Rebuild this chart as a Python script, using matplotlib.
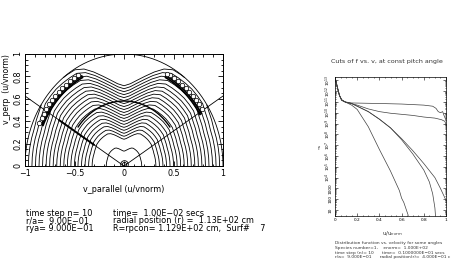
import matplotlib
matplotlib.use("Agg")
import matplotlib.pyplot as plt
import numpy as np
from matplotlib.ticker import MultipleLocator, FixedLocator, LogLocator, NullFormatter

# ---------------- left panel: contours of f(v_par, v_perp) ----------------
# radius of the outermost contour at each pitch angle (deg), mirrored to 180
pitch_deg = [0, 5, 10, 15, 20, 25, 30, 35, 40, 45, 50, 55, 60, 65, 70, 75, 80, 85, 90]
outer_r = [0.93, 0.93, 0.93, 0.93, 0.93, 0.94, 0.95, 0.97, 0.97, 0.97,
           0.965, 0.96, 0.955, 0.92, 0.86, 0.80, 0.75, 0.71, 0.69]
outer_level = 26
contour_levels = [5] + list(range(9, 28))

trap_deg = [32, 148]            # trapped/passing boundary lines
inner_arc_r = 0.58
inner_arc_deg = [37, 143]
band_r = [0.895, 0.91]
band_deg_right = [31, 62]
band_deg_left = [118, 156]
marker_r = 0.935
marker_deg_right = [33, 36, 39, 42, 45, 48, 51, 54, 57, 60, 62]
marker_deg_left = [120, 123, 126, 129, 132, 135, 138, 141, 144, 147, 150, 153, 156]
origin_mark_ms = [3.0, 5.5]

left_info = [("time step n= 10", "time=  1.00E\u221202 secs"),
             ("r/a=  9.00E\u221201", "radial position (r) =  1.13E+02 cm"),
             ("rya= 9.000E\u221201", "R=rpcon= 1.129E+02 cm,  Surf#    7")]

# ---------------- right panel: cuts of f vs v ----------------
u_a = [0, 0.02, 0.04, 0.06, 0.09, 0.15, 0.4, 0.6, 0.8, 0.88, 0.91, 0.93, 0.95, 0.97, 0.98, 1.0]
lf_a = [13.3, 12.4, 11.6, 11.2, 11.0, 10.9, 10.85, 10.8, 10.7, 10.6, 10.4, 10.1, 10.0, 10.1, 9.8, 9.3]
u_b = [0, 0.02, 0.04, 0.06, 0.09, 0.2, 0.3, 0.4, 0.5, 0.6, 0.7, 0.8, 0.9, 0.96, 0.99, 1.0]
lf_b = [13.3, 12.4, 11.6, 11.2, 11.0, 10.7, 10.35, 10.1, 9.95, 9.85, 9.75, 9.6, 9.5, 9.35, 9.2, 8.9]
u_c1 = [0, 0.02, 0.04, 0.06, 0.1, 0.15, 0.2, 0.3, 0.4, 0.5, 0.6, 0.7, 0.8, 0.85, 0.88, 0.9, 0.905]
lf_c1 = [13.3, 12.4, 11.6, 11.15, 10.95, 10.85, 10.6, 10.1, 9.4, 8.6, 7.5, 6.2, 4.7, 3.6, 2.5, 1.2, 0.5]
u_c2 = [0, 0.02, 0.04, 0.06, 0.1, 0.15, 0.2, 0.3, 0.4, 0.5, 0.6, 0.7, 0.8, 0.9, 0.95, 1.0]
lf_c2 = [13.3, 12.4, 11.6, 11.15, 10.95, 10.85, 10.6, 10.1, 9.4, 8.6, 7.6, 6.5, 5.3, 4.0, 3.0, 1.9]
u_d = [0, 0.02, 0.04, 0.06, 0.1, 0.15, 0.2, 0.3, 0.4, 0.5, 0.58, 0.6, 0.62, 0.66]
lf_d = [13.3, 12.4, 11.6, 11.15, 10.95, 10.7, 10.3, 8.7, 6.6, 4.6, 2.8, 2.1, 1.7, 0.5]
decades = list(range(1, 14))
decade_labels = ["10", "100", "1000"] + ["10$^{%d}$" % k for k in range(4, 14)]

right_info = ["Distribution function vs. velocity for some angles",
              "Species number=1,    enorm=  1.000E+02",
              "time step (n)= 10      time=  0.1000000E\u221201 secs",
              "r/a=  9.000E\u221201      radial position(r)=  4.000E\u221201 c"]

W, H = 459, 266
fig = plt.figure(figsize=(W / 100, H / 100), dpi=100)


def fx(x):
    return x / W


def fy(y):
    return 1 - y / H


# ---- left axes ----
ax = fig.add_axes([fx(25), fy(166), fx(223) - fx(25), fy(54) - fy(166)])

th_half = np.array(pitch_deg, dtype=float)
th_full = np.concatenate([th_half, 180 - th_half[-2::-1]])
R_full = np.concatenate([outer_r, outer_r[-2::-1]])
r = np.linspace(0, 1, 41)
TH = np.radians(th_full)[None, :]
X = r[:, None] * np.cos(TH)
Y = r[:, None] * np.sin(TH)
L = outer_level * r[:, None] / R_full[None, :]
ax.contour(X, Y, L, levels=contour_levels, colors="k", linewidths=0.6)

t = np.radians(np.linspace(0, 180, 200))
ax.plot(np.cos(t), np.sin(t), color="k", lw=0.6)

for d in trap_deg:
    a = np.radians(d)
    ax.plot([0, 1.3 * np.cos(a)], [0, 1.3 * np.sin(a)], color="k", lw=0.6)
a = np.radians(trap_deg[1])
ax.plot([0.36 * np.cos(a), 0.77 * np.cos(a)], [0.36 * np.sin(a), 0.77 * np.sin(a)],
        color="k", lw=1.4)

t = np.radians(np.linspace(inner_arc_deg[0], inner_arc_deg[1], 80))
ax.plot(inner_arc_r * np.cos(t), inner_arc_r * np.sin(t), color="k", lw=1.0)

for lo, hi in (band_deg_right, band_deg_left):
    t = np.radians(np.linspace(lo, hi, 40))
    for rb in band_r:
        ax.plot(rb * np.cos(t), rb * np.sin(t), color="k", lw=1.3)

for degs in (marker_deg_right, marker_deg_left):
    t = np.radians(np.array(degs, dtype=float))
    ax.plot(marker_r * np.cos(t), marker_r * np.sin(t), "o", ms=3.2,
            mfc="white", mec="k", mew=0.5)

for ms in origin_mark_ms:
    ax.plot([0], [0.02], "o", ms=ms, mfc="none", mec="k", mew=0.6)

ax.set_xlim(-1, 1)
ax.set_ylim(0, 1)
ax.xaxis.set_major_locator(FixedLocator([-1, -0.5, 0, 0.5, 1]))
ax.set_xticklabels(["\u22121", "\u22120.5", "0", "0.5", "1"])
ax.xaxis.set_minor_locator(MultipleLocator(0.1))
ax.set_yticks([0, 0.2, 0.4, 0.6, 0.8, 1])
ax.set_yticklabels(["0", "0.2", "0.4", "0.6", "0.8", "1"], rotation=90, va="center")
ax.yaxis.set_minor_locator(MultipleLocator(0.05))
ax.tick_params(which="both", direction="in", top=True, right=True, width=0.6,
               labelsize=5.8, pad=2)
ax.tick_params(which="major", length=3.5)
ax.tick_params(which="minor", length=1.8)
for s in ax.spines.values():
    s.set_linewidth(0.7)

fig.text(fx(124), fy(190), "v_parallel (u/vnorm)", ha="center", va="center", fontsize=5.8)
fig.text(fx(7), fy(89), "v_perp  (u/vnorm)", ha="center", va="center",
         fontsize=5.6, rotation=90)
for i, (a_txt, b_txt) in enumerate(left_info):
    y = 213 + 7.7 * i
    fig.text(fx(26), fy(y), a_txt, ha="left", va="center", fontsize=5.9)
    fig.text(fx(113), fy(y), b_txt, ha="left", va="center", fontsize=5.9)

# ---- right axes ----
ax2 = fig.add_axes([fx(335), fy(216), fx(446) - fx(335), fy(77) - fy(216)])
for u, lf in ((u_a, lf_a), (u_b, lf_b), (u_c1, lf_c1), (u_c2, lf_c2), (u_d, lf_d)):
    ax2.plot(u, 10.0 ** np.array(lf), color="0.25", lw=0.5)
ax2.set_yscale("log")
ax2.set_xlim(0, 1)
ax2.set_ylim(10 ** 0.45, 10 ** 13.3)
ax2.set_xticks([0, 0.2, 0.4, 0.6, 0.8, 1])
ax2.set_xticklabels(["0", "0.2", "0.4", "0.6", "0.8", "1"])
ax2.xaxis.set_minor_locator(MultipleLocator(0.05))
ax2.yaxis.set_major_locator(FixedLocator([10.0 ** k for k in decades]))
ax2.set_yticklabels(decade_labels, rotation=90, va="center")
ax2.yaxis.set_minor_locator(LogLocator(base=10, subs=np.arange(2, 10), numticks=200))
ax2.yaxis.set_minor_formatter(NullFormatter())
ax2.tick_params(which="both", direction="in", top=True, right=True, width=0.4,
                labelsize=3.1, pad=1.5)
ax2.tick_params(which="major", length=2.2)
ax2.tick_params(which="minor", length=1.0)
for s in ax2.spines.values():
    s.set_linewidth(0.5)

fig.text(fx(387), fy(61), "Cuts of f vs. v, at const pitch angle", ha="center",
         va="center", fontsize=4.6, color="0.2")
fig.text(fx(319), fy(148), "f", ha="center", va="center", fontsize=3.8, color="0.2")
fig.text(fx(392), fy(234), "u/u$_{norm}$", ha="center", va="center", fontsize=4.0,
         color="0.2")
for i, line in enumerate(right_info):
    fig.text(fx(335), fy(243 + 4.8 * i), line, ha="left", va="center", fontsize=3.2,
             color="0.2")

fig.savefig("out.png", dpi=100)
